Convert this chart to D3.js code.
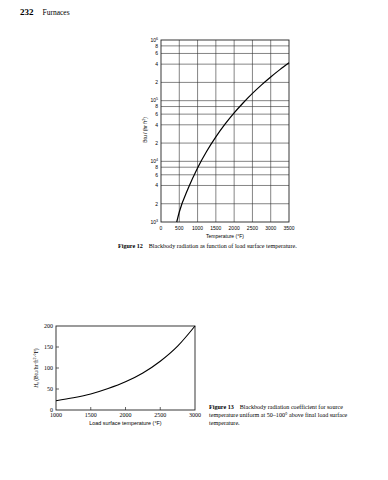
<!DOCTYPE html>
<html>
<head>
<meta charset="utf-8">
<title>Blackbody radiation</title>
<script src="https://cdn.jsdelivr.net/npm/d3@7"></script>
<style>
  body { margin: 0; background: #fff; }
  svg { display: block; }
  .sans { font-family: "Liberation Sans", Arial, sans-serif; }
  .serif { font-family: "Liberation Serif", "Times New Roman", serif; }
</style>
</head>
<body>
<svg id="page" width="388" height="480"></svg>
<script>
// Figure 12
var tempF = [430, 500, 750, 1000, 1250, 1500, 1750, 2000, 2250, 2500, 2750, 3000, 3250, 3500];
var radiation = [1000, 1460, 3670, 7790, 14650, 25300, 40900, 62800, 92400, 131600, 182000, 245700, 324700, 421500];
var xTicks12 = [0, 500, 1000, 1500, 2000, 2500, 3000, 3500];
var yTicks12 = [1e3, 2e3, 4e3, 6e3, 8e3, 1e4, 2e4, 4e4, 6e4, 8e4, 1e5, 2e5, 4e5, 6e5, 8e5, 1e6];

// Figure 13
var loadTemp = [1000, 1250, 1500, 1750, 2000, 2250, 2500, 2750, 3000];
var coeff = [22, 29, 38, 51, 67, 88, 116, 152, 200];
var xTicks13 = [1000, 1500, 2000, 2500, 3000];
var yTicks13 = [0, 50, 100, 150, 200];

var svg = d3.select("#page");

// running head
var head = svg.append("text").attr("class", "serif").attr("x", 20).attr("y", 15).attr("font-size", 9);
head.append("tspan").attr("font-weight", "bold").text("232");
head.append("tspan").attr("dx", 9).attr("font-size", 7.5).text("Furnaces");

// ---------- Figure 12 ----------
var x12 = d3.scaleLinear().domain([0, 3500]).range([161, 289]);
var y12 = d3.scaleLog().domain([1e3, 1e6]).range([222, 40]);

var g12 = svg.append("g");

g12.selectAll(".vgrid").data(xTicks12.slice(1, -1)).enter().append("line")
  .attr("x1", x12).attr("x2", x12)
  .attr("y1", y12(1e3)).attr("y2", y12(1e6))
  .attr("stroke", "#333").attr("stroke-width", 0.6);

g12.selectAll(".hgrid").data(yTicks12.slice(1, -1)).enter().append("line")
  .attr("x1", x12(0)).attr("x2", x12(3500))
  .attr("y1", y12).attr("y2", y12)
  .attr("stroke", "#333").attr("stroke-width", 0.6);

g12.append("rect")
  .attr("x", x12(0)).attr("y", y12(1e6))
  .attr("width", x12(3500) - x12(0)).attr("height", y12(1e3) - y12(1e6))
  .attr("fill", "none").attr("stroke", "#222").attr("stroke-width", 0.9);

g12.append("path")
  .datum(d3.zip(tempF, radiation))
  .attr("fill", "none").attr("stroke", "#000").attr("stroke-width", 1.2)
  .attr("d", d3.line().x(function(d) { return x12(d[0]); }).y(function(d) { return y12(d[1]); }).curve(d3.curveMonotoneX));

// y tick labels
var yl = g12.selectAll(".ylab").data(yTicks12).enter().append("text")
  .attr("class", "sans").attr("font-size", 5).attr("text-anchor", "end")
  .attr("x", x12(0) - 3).attr("y", function(d) { return y12(d) + 1.8; });
yl.each(function(d) {
  var e = Math.floor(Math.log10(d) + 1e-9), m = Math.round(d / Math.pow(10, e));
  var t = d3.select(this);
  if (m === 1) {
    t.append("tspan").text("10");
    t.append("tspan").attr("dy", -2).attr("font-size", 3.6).text(e);
  } else {
    t.text(m);
  }
});

g12.selectAll(".xlab").data(xTicks12).enter().append("text")
  .attr("class", "sans").attr("font-size", 5).attr("text-anchor", "middle")
  .attr("x", x12).attr("y", y12(1e3) + 8)
  .text(function(d) { return d; });

g12.append("text").attr("class", "sans").attr("font-size", 5).attr("text-anchor", "middle")
  .attr("x", (x12(0) + x12(3500)) / 2).attr("y", y12(1e3) + 15.5)
  .text("Temperature (°F)");

var yt = g12.append("text").attr("class", "sans").attr("font-size", 5).attr("text-anchor", "middle")
  .attr("transform", "translate(147,130) rotate(-90)");
yt.append("tspan").text("Btu / (hr ft");
yt.append("tspan").attr("dy", -1.6).attr("font-size", 3.6).text("2");
yt.append("tspan").attr("dy", 1.6).text(")");

var cap12 = svg.append("text").attr("class", "serif").attr("font-size", 6.1)
  .attr("x", 118).attr("y", 248);
cap12.append("tspan").attr("font-weight", "bold").text("Figure 12");
cap12.append("tspan").attr("dx", 6).text("Blackbody radiation as function of load surface temperature.");

// ---------- Figure 13 ----------
var x13 = d3.scaleLinear().domain([1000, 3000]).range([56, 195]);
var y13 = d3.scaleLinear().domain([0, 200]).range([410, 326]);

var g13 = svg.append("g");

g13.append("rect")
  .attr("x", x13(1000)).attr("y", y13(200))
  .attr("width", x13(3000) - x13(1000)).attr("height", y13(0) - y13(200))
  .attr("fill", "none").attr("stroke", "#222").attr("stroke-width", 0.9);

g13.selectAll(".ytick").data(yTicks13.slice(1, -1)).enter().append("line")
  .attr("x1", x13(1000)).attr("x2", x13(1000) + 3)
  .attr("y1", y13).attr("y2", y13)
  .attr("stroke", "#222").attr("stroke-width", 0.7);

g13.selectAll(".xtick").data(xTicks13.slice(1, -1)).enter().append("line")
  .attr("x1", x13).attr("x2", x13)
  .attr("y1", y13(0)).attr("y2", y13(0) - 3)
  .attr("stroke", "#222").attr("stroke-width", 0.7);

g13.append("path")
  .datum(d3.zip(loadTemp, coeff))
  .attr("fill", "none").attr("stroke", "#000").attr("stroke-width", 1.1)
  .attr("d", d3.line().x(function(d) { return x13(d[0]); }).y(function(d) { return y13(d[1]); }).curve(d3.curveMonotoneX));

g13.selectAll(".ylab").data(yTicks13).enter().append("text")
  .attr("class", "serif").attr("font-size", 6).attr("text-anchor", "end")
  .attr("x", x13(1000) - 3).attr("y", function(d) { return y13(d) + 2; })
  .text(function(d) { return d; });

g13.selectAll(".xlab").data(xTicks13).enter().append("text")
  .attr("class", "serif").attr("font-size", 6).attr("text-anchor", "middle")
  .attr("x", x13).attr("y", y13(0) + 7)
  .text(function(d) { return d; });

g13.append("text").attr("class", "sans").attr("font-size", 5.4).attr("text-anchor", "middle")
  .attr("x", (x13(1000) + x13(3000)) / 2).attr("y", y13(0) + 15)
  .text("Load surface temperature (°F)");

var yt13 = g13.append("text").attr("class", "serif").attr("font-size", 5.6).attr("text-anchor", "middle")
  .attr("transform", "translate(38,368) rotate(-90)");
yt13.append("tspan").attr("font-style", "italic").text("H");
yt13.append("tspan").attr("dy", 1.2).attr("font-size", 4).text("r");
yt13.append("tspan").attr("dy", -1.2).text(" (Btu/hr·ft");
yt13.append("tspan").attr("dy", -1.8).attr("font-size", 4).text("2");
yt13.append("tspan").attr("dy", 1.8).text("·°F)");

var capLines = [
  ["Figure 13", "Blackbody radiation coefficient for source"],
  ["", "temperature uniform at 50–100° above final load surface"],
  ["", "temperature."]
];
capLines.forEach(function(l, i) {
  var t = svg.append("text").attr("class", "serif").attr("font-size", 6.1)
    .attr("x", 209).attr("y", 409 + i * 7.8);
  if (l[0]) {
    t.append("tspan").attr("font-weight", "bold").text(l[0]);
    t.append("tspan").attr("dx", 6).text(l[1]);
  } else {
    t.text(l[1]);
  }
});
</script>
</body>
</html>
